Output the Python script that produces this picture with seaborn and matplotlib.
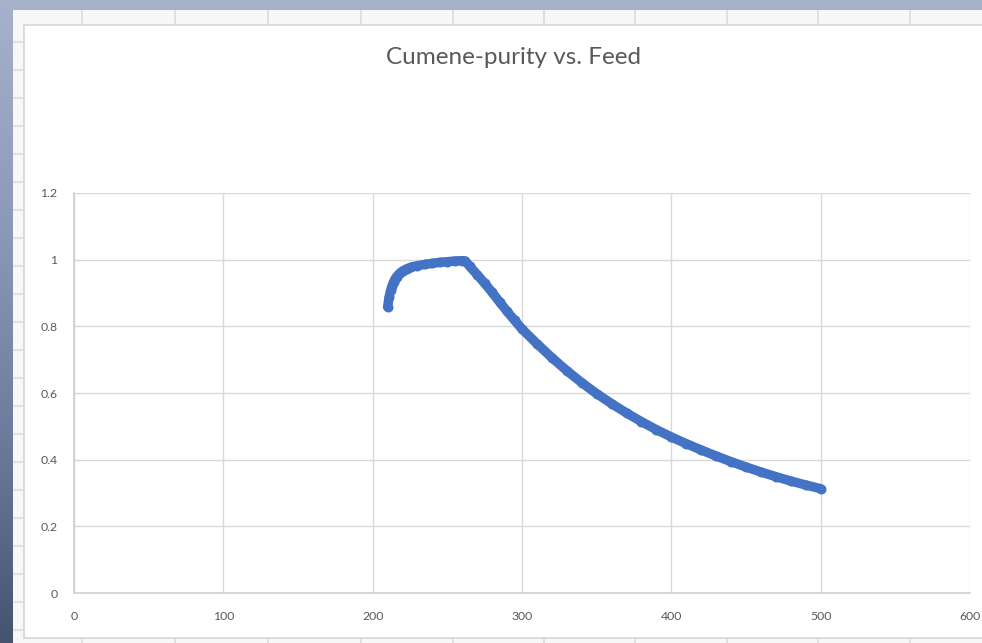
import numpy as np
import pandas as pd
import matplotlib
matplotlib.use("Agg")
import matplotlib.pyplot as plt
import seaborn as sns
from matplotlib.colors import LinearSegmentedColormap

sns.set_style("white")
plt.rcParams['font.family'] = ['Lato', 'DejaVu Sans']

# ---- data ----
feed = [210, 211, 212, 213, 214, 215, 216, 218, 220, 223, 226, 230, 235, 240,
        245, 250, 255, 260, 262, 265, 270, 275, 280, 285, 290, 295, 300, 310,
        320, 330, 340, 350, 360, 370, 380, 390, 400, 410, 420, 430, 440, 450,
        460, 470, 480, 490, 500]
purity = [0.858, 0.888, 0.908, 0.922, 0.933, 0.942, 0.949, 0.959, 0.966, 0.973,
          0.978, 0.982, 0.986, 0.989, 0.992, 0.994, 0.996, 0.997, 0.996, 0.980,
          0.955, 0.929, 0.902, 0.873, 0.845, 0.818, 0.792, 0.748, 0.706, 0.667,
          0.631, 0.598, 0.568, 0.540, 0.514, 0.490, 0.468, 0.448, 0.429, 0.411,
          0.394, 0.378, 0.363, 0.349, 0.336, 0.324, 0.313]
x_ticks = [0, 100, 200, 300, 400, 500, 600]
y_ticks = [0, 0.2, 0.4, 0.6, 0.8, 1.0, 1.2]
y_tick_labels = ['0', '0.2', '0.4', '0.6', '0.8', '1', '1.2']
title = "Cumene-purity vs. Feed"

df = pd.DataFrame({"Feed": feed, "Purity": purity})

W, H = 982, 643
fig = plt.figure(figsize=(W / 100, H / 100), dpi=100)

# ---- blurred photo-like background ----
bg = fig.add_axes([0, 0, 1, 1], zorder=-10)
cmap = LinearSegmentedColormap.from_list("bgc", ["#a7b1cc", "#8e9aba", "#6f7c9d", "#46536f"])
grad = np.linspace(0, 1, 256).reshape(-1, 1)
bg.imshow(grad, aspect='auto', cmap=cmap, extent=[0, 1, 0, 1], origin='upper')
bg.set_xlim(0, 1); bg.set_ylim(0, 1)
bg.axis('off')

# ---- spreadsheet sheet behind the chart ----
sheet = fig.add_axes([13 / W, 0, 1 - 13 / W, (H - 10) / H], zorder=-9)
sheet.set_xlim(13, W); sheet.set_ylim(H, 10)
sheet.set_facecolor("#f7f7f7")
for xc in [82, 175, 268, 361, 453, 544, 635, 727, 818, 910]:
    sheet.axvline(xc, color="#dcdcdc", lw=1.2)
for yr in [42, 70, 98, 126, 154, 182, 210, 238, 266, 294, 322, 350, 378,
           406, 434, 462, 490, 518, 546, 574, 602, 630]:
    sheet.axhline(yr, color="#dcdcdc", lw=1.2)
for s in sheet.spines.values():
    s.set_visible(False)
sheet.set_xticks([]); sheet.set_yticks([])

# ---- chart area ----
chart = fig.add_axes([24 / W, (H - 638) / H, 1 - 24 / W + 0.01, (638 - 25) / H], zorder=-8)
chart.set_facecolor("white")
for s in chart.spines.values():
    s.set_color("#d6d6d6"); s.set_linewidth(1.2)
chart.set_xticks([]); chart.set_yticks([])

# ---- plot area ----
left, right, bottom, top = 74, 970, 593, 193
ax = fig.add_axes([left / W, (H - bottom) / H, (right - left) / W, (bottom - top) / H])
ax.patch.set_alpha(0)
sns.lineplot(data=df, x="Feed", y="Purity", ax=ax, sort=False, color="#4472C4",
             linewidth=6.8, marker='o', markersize=7.2, markeredgewidth=0,
             solid_capstyle='round', solid_joinstyle='round', zorder=3)

ax.set_xlim(0, 600)
ax.set_ylim(0, 1.2)
ax.set_xticks(x_ticks)
ax.set_xticklabels([str(v) for v in x_ticks])
ax.set_yticks(y_ticks)
ax.set_yticklabels(y_tick_labels)
ax.grid(True, color="#d9d9d9", linewidth=1.0)
ax.set_axisbelow(True)
ax.tick_params(axis='both', length=0, labelsize=8.8, labelcolor="#595959")
ax.tick_params(axis='y', pad=12)
ax.tick_params(axis='x', pad=13)
for side in ['top', 'right']:
    ax.spines[side].set_visible(False)
for side in ['left', 'bottom']:
    ax.spines[side].set_color("#d0d0d0")
    ax.spines[side].set_linewidth(1.2)
ax.set_xlabel("")
ax.set_ylabel("")

fig.text(514 / W, 1 - 57 / H, title, ha='center', va='center',
         fontsize=17.5, color="#595959")

fig.savefig("out.png", dpi=100)
